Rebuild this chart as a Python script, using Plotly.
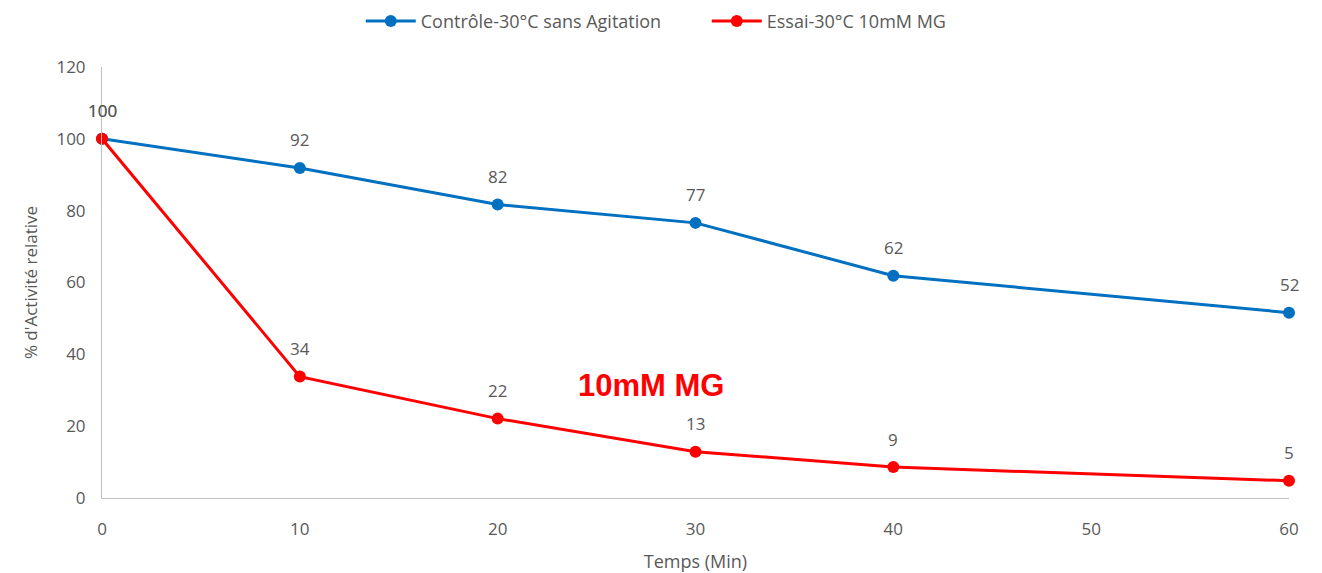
import plotly.graph_objects as go

temps = [0, 10, 20, 30, 40, 60]
controle = [100, 91.9, 81.7, 76.6, 61.9, 51.6]
essai = [100, 33.8, 22.1, 12.9, 8.6, 4.8]
series_names = ["Contrôle-30°C sans Agitation", "Essai-30°C 10mM MG"]
colors = ["#0070C0", "#FF0000"]
x_ticks = [0, 10, 20, 30, 40, 50, 60]
y_ticks = [0, 20, 40, 60, 80, 100, 120]

font_family = "Open Sans, sans-serif"
gray = "#595959"

fig = go.Figure()
for name, vals, col in zip(series_names, [controle, essai], colors):
    fig.add_trace(go.Scatter(
        x=temps, y=vals, name=name, mode="lines+markers",
        line=dict(color=col, width=3),
        marker=dict(color=col, size=12),
        cliponaxis=False,
    ))
    for xv, yv in zip(temps, vals):
        fig.add_annotation(x=xv, y=yv, text=f"{yv:.0f}", showarrow=False,
                           yshift=28, font=dict(family=font_family, size=17, color=gray))

fig.add_annotation(x=0.4625, xref="paper", y=31.2, text="<b>10mM MG</b>", showarrow=False,
                   font=dict(family="Liberation Sans, Arial", size=31, color="#FF0000"))

fig.update_layout(
    width=1322, height=573,
    margin=dict(l=102, r=33, t=67, b=75, autoexpand=False),
    paper_bgcolor="white", plot_bgcolor="white",
    font=dict(family=font_family, size=17, color=gray),
    showlegend=True,
    legend=dict(orientation="h", x=0.218, xanchor="left", y=0.995, yref="container",
                yanchor="top", font=dict(size=18, color=gray), itemwidth=50,
                entrywidth=281, entrywidthmode="pixels"),
    xaxis=dict(range=[0, 60], tickvals=x_ticks, showgrid=False, zeroline=False,
               showline=True, linecolor="#BFBFBF", linewidth=1, automargin=False,
               ticks="outside", ticklen=16, tickcolor="rgba(0,0,0,0)",
               tickfont=dict(size=17, color=gray),
               title=dict(text="Temps (Min)", font=dict(size=18, color=gray), standoff=16)),
    yaxis=dict(range=[0, 120], tickvals=y_ticks, showgrid=False, zeroline=False,
               showline=True, linecolor="#BFBFBF", linewidth=1, automargin=False,
               ticks="outside", ticklen=12, tickcolor="rgba(0,0,0,0)",
               tickfont=dict(size=17, color=gray),
               title=dict(text="% d'Activité relative", font=dict(size=17, color=gray), standoff=14)),
)

fig.write_html("out.html")
